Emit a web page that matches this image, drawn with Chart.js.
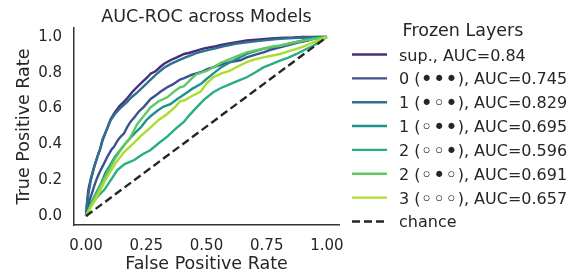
<!DOCTYPE html>
<html>
<head>
<meta charset="utf-8">
<script src="https://cdn.jsdelivr.net/npm/chart.js@4"></script>
<style>
  html, body { margin: 0; padding: 0; background: #fff; }
  #wrap { width: 581px; height: 272px; }
</style>
</head>
<body>
<div id="wrap"><canvas id="roc"></canvas></div>
<script>
// --- data ---
const chartTitle = 'AUC-ROC across Models';
const legendTitle = 'Frozen Layers';
const seriesLabels = [
    'sup., AUC=0.84',
    '0 (\u2022\u2022\u2022), AUC=0.745',
    '1 (\u2022\u25E6\u2022), AUC=0.829',
    '1 (\u25E6\u2022\u2022), AUC=0.695',
    '2 (\u25E6\u25E6\u2022), AUC=0.596',
    '2 (\u25E6\u2022\u25E6), AUC=0.691',
    '3 (\u25E6\u25E6\u25E6), AUC=0.657'
];
const chanceLabel = 'chance';

const supFpr = [0, .005, .01, .02, .035, .047, .06, .068, .085, .102, .12, .14, .155, .171, .19, .213, .235, .255, .268, .29, .31, .324, .35, .379, .407, .43, .462, .49, .528, .56, .6, .667, .72, .77, .805, .86, .9, .95, 1];
const supTpr = [0, .09, .15, .21, .28, .331, .38, .425, .48, .54, .58, .615, .635, .658, .69, .722, .75, .775, .795, .81, .835, .85, .87, .887, .905, .912, .925, .936, .945, .955, .965, .98, .986, .992, .995, .997, 1, 1, 1];

const f000Fpr = [0, .005, .015, .025, .033, .045, .06, .075, .09, .105, .116, .13, .145, .158, .172, .185, .2, .22, .24, .268, .29, .31, .337, .36, .39, .407, .44, .476, .51, .528, .56, .6, .64, .667, .7, .74, .77, .805, .84, .88, .92, .943, .97, 1];
const f000Tpr = [0, .04, .09, .13, .164, .21, .255, .294, .335, .37, .387, .42, .445, .462, .5, .527, .55, .585, .61, .654, .675, .695, .719, .735, .762, .77, .79, .803, .825, .83, .845, .86, .87, .886, .9, .915, .93, .942, .955, .968, .98, .989, .995, 1];

const f101Fpr = [0, .005, .012, .02, .033, .047, .06, .068, .085, .102, .12, .14, .171, .19, .213, .24, .268, .29, .324, .35, .379, .41, .44, .462, .5, .528, .57, .62, .667, .72, .77, .805, .86, .92, .96, 1];
const f101Tpr = [0, .085, .14, .2, .27, .331, .38, .42, .48, .535, .57, .6, .638, .665, .69, .725, .762, .79, .828, .848, .866, .885, .9, .912, .925, .933, .948, .962, .97, .978, .985, .989, .994, .997, 1, 1];

const f011Fpr = [0, .01, .02, .035, .05, .065, .08, .1, .12, .14, .16, .18, .2, .227, .25, .27, .296, .32, .35, .379, .41, .44, .476, .5, .528, .56, .598, .63, .667, .7, .74, .78, .805, .85, .9, .95, 1];
const f011Tpr = [0, .035, .07, .11, .15, .19, .24, .285, .33, .365, .4, .43, .46, .495, .535, .56, .588, .61, .625, .654, .682, .71, .737, .765, .795, .83, .859, .88, .905, .92, .935, .945, .951, .965, .98, .992, 1];

const f001Fpr = [0, .01, .025, .04, .055, .075, .1, .13, .16, .2, .235, .268, .3, .337, .37, .407, .43, .459, .49, .528, .56, .598, .63, .667, .7, .736, .77, .805, .84, .874, .91, .943, .97, 1];
const f001Tpr = [0, .03, .065, .095, .12, .145, .195, .257, .29, .313, .345, .369, .405, .443, .485, .527, .565, .607, .65, .691, .715, .737, .755, .775, .8, .83, .848, .868, .885, .905, .93, .951, .975, 1];

const f010Fpr = [0, .01, .02, .035, .05, .065, .08, .1, .12, .14, .16, .18, .213, .24, .268, .3, .337, .37, .39, .407, .44, .459, .476, .5, .528, .56, .598, .63, .667, .72, .77, .805, .85, .9, .95, 1];
const f010Tpr = [0, .03, .06, .1, .14, .18, .22, .27, .32, .36, .4, .43, .514, .56, .607, .64, .663, .7, .719, .725, .77, .793, .8, .81, .83, .855, .877, .895, .914, .93, .945, .951, .965, .978, .99, 1];

const f000bFpr = [0, .01, .02, .035, .05, .065, .08, .1, .12, .14, .16, .18, .2, .23, .268, .3, .337, .37, .39, .407, .44, .476, .5, .528, .56, .598, .63, .667, .7, .736, .77, .805, .84, .874, .91, .943, .97, 1];
const f000bTpr = [0, .025, .05, .085, .12, .16, .2, .245, .29, .325, .36, .385, .41, .45, .495, .535, .57, .61, .64, .645, .67, .695, .74, .775, .795, .812, .835, .859, .875, .886, .895, .905, .92, .933, .95, .97, .985, 1];

const chanceFpr = [0, 1];
const chanceTpr = [0, 1];

const xTicks = [0, 0.25, 0.5, 0.75, 1];
const yTicks = [0, 0.2, 0.4, 0.6, 0.8, 1];

const lineColors = ['#472d7b', '#3b528b', '#2c728e', '#21918c', '#28ae80', '#5ec962', '#addc30'];
const chanceColor = '#262626';
const textColor = '#262626';
const fontFamily = "'DejaVu Sans', sans-serif";

// --- build datasets ---
const curves = [
    [supFpr, supTpr], [f000Fpr, f000Tpr], [f101Fpr, f101Tpr], [f011Fpr, f011Tpr],
    [f001Fpr, f001Tpr], [f010Fpr, f010Tpr], [f000bFpr, f000bTpr]
];

function toPoints(xs, ys) {
    return xs.map((x, i) => ({ x: x, y: ys[i] }));
}

const datasets = curves.map((c, i) => ({
    label: seriesLabels[i],
    data: toPoints(c[0], c[1]),
    borderColor: lineColors[i],
    borderWidth: 2.4,
    pointRadius: 0,
    showLine: true,
    tension: 0,
    order: curves.length - i + 1
}));
datasets.push({
    label: chanceLabel,
    data: toPoints(chanceFpr, chanceTpr),
    borderColor: chanceColor,
    borderWidth: 2.4,
    borderDash: [8, 4],
    pointRadius: 0,
    showLine: true,
    order: 0
});

// draw a label char by char so the layer dots can be a bit bigger
function drawLabel(ctx, text, x, y) {
    let cx = x;
    for (const ch of text) {
        const isDot = ch === '\u2022' || ch === '\u25E6';
        ctx.font = (isDot ? '21px ' : '16px ') + fontFamily;
        ctx.fillText(ch, cx, isDot ? y + 2 : y);
        cx += ctx.measureText(ch).width;
    }
}

// --- title over the plot area and legend to the right of it ---
const sideLegend = {
    id: 'sideLegend',
    afterDraw(chart) {
        const ctx = chart.ctx;
        const area = chart.chartArea;
        ctx.save();
        ctx.fillStyle = textColor;
        ctx.textBaseline = 'middle';
        ctx.textAlign = 'center';
        ctx.font = '17.5px ' + fontFamily;
        ctx.fillText(chartTitle, (area.left + area.right) / 2, 17.5);
        ctx.fillText(legendTitle, 463, 31);
        ctx.textAlign = 'left';
        ctx.textBaseline = 'alphabetic';
        chart.data.datasets.forEach((ds, i) => {
            const y = 54.5 + i * 23.85;
            ctx.beginPath();
            ctx.strokeStyle = ds.borderColor;
            ctx.lineWidth = 2.4;
            ctx.setLineDash(ds.borderDash || []);
            ctx.moveTo(352, y);
            ctx.lineTo(387, y);
            ctx.stroke();
            drawLabel(ctx, ds.label, 399, y + 6);
        });
        ctx.restore();
    }
};

new Chart(document.getElementById('roc'), {
    type: 'scatter',
    data: { datasets: datasets },
    options: {
        responsive: true,
        maintainAspectRatio: false,
        animation: false,
        layout: { padding: { left: 0, right: 242, top: 28, bottom: 0 } },
        plugins: {
            legend: { display: false },
            tooltip: { enabled: false },
            title: { display: false }
        },
        scales: {
            x: {
                type: 'linear',
                min: -0.05,
                max: 1.05,
                afterBuildTicks: scale => { scale.ticks = xTicks.map(v => ({ value: v })); },
                afterFit: scale => { scale.height = 47; },
                grid: { display: false, drawTicks: false },
                border: { display: true, color: '#333', width: 1.5 },
                ticks: {
                    color: textColor,
                    padding: 12,
                    maxRotation: 0,
                    font: { family: fontFamily, size: 15 },
                    callback: v => v.toFixed(2)
                },
                title: {
                    display: true,
                    text: 'False Positive Rate',
                    color: textColor,
                    font: { family: fontFamily, size: 17.5 },
                    padding: { top: 0, bottom: -3 }
                }
            },
            y: {
                type: 'linear',
                min: -0.05,
                max: 1.05,
                afterBuildTicks: scale => { scale.ticks = yTicks.map(v => ({ value: v })); },
                afterFit: scale => { scale.width = 74; },
                grid: { display: false, drawTicks: false },
                border: { display: true, color: '#333', width: 1.5 },
                ticks: {
                    color: textColor,
                    padding: 12,
                    font: { family: fontFamily, size: 15 },
                    callback: v => v.toFixed(1)
                },
                title: {
                    display: true,
                    text: 'True Positive Rate',
                    color: textColor,
                    font: { family: fontFamily, size: 17.5 },
                    padding: { top: 14, bottom: 0 }
                }
            }
        }
    },
    plugins: [sideLegend]
});
</script>
</body>
</html>
